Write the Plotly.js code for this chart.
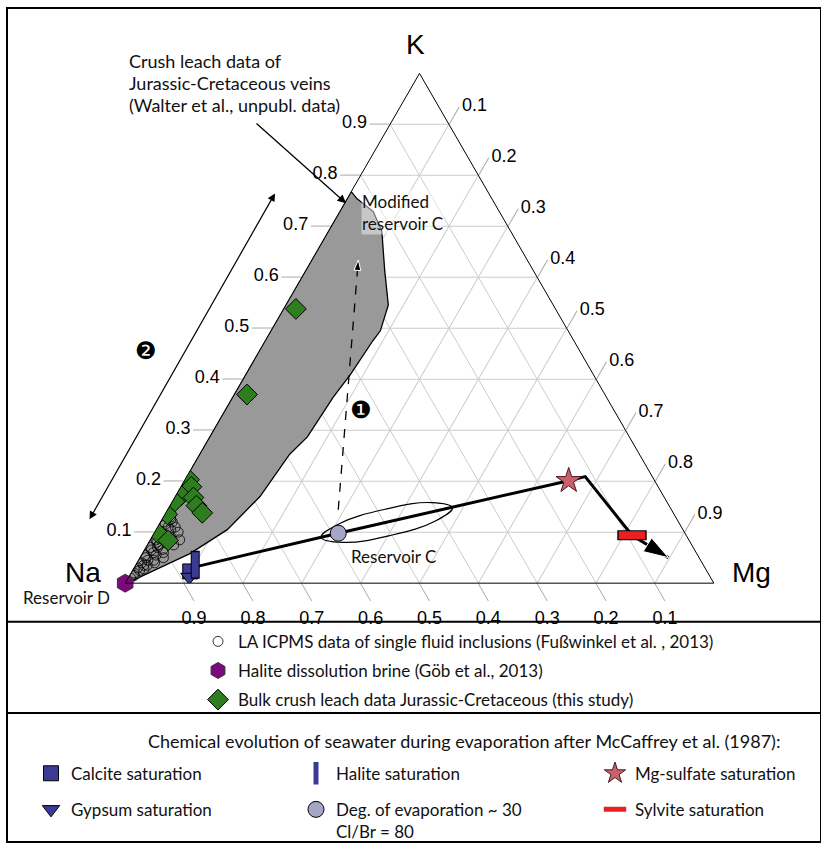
<!DOCTYPE html>
<html><head><meta charset="utf-8">
<script src="https://cdn.plot.ly/plotly-3.0.1.min.js"></script>
<style>html,body{margin:0;padding:0;background:#fff}</style>
</head><body><div id="chart" style="width:821px;height:850px"></div>
<script>
// ---------------- DATA (K = a, Mg = c, Na = remainder) ----------------
const tickVals = [0.1, 0.2, 0.3, 0.4, 0.5, 0.6, 0.7, 0.8, 0.9];
const tickText = ['0.1', '0.2', '0.3', '0.4', '0.5', '0.6', '0.7', '0.8', '0.9'];

// outline of crush-leach field (Walter et al., unpubl.)
const regionK  = [0, 0.768, 0.754, 0.729, 0.690, 0.612, 0.546, 0.495, 0.476, 0.409, 0.365, 0.287, 0.253, 0.170, 0.105, 0.058, 0];
const regionMg = [0, 0.000, 0.017, 0.057, 0.091, 0.135, 0.174, 0.186, 0.183, 0.178, 0.171, 0.166, 0.153, 0.144, 0.121, 0.081, 0.003];

// LA ICPMS single fluid inclusions
const incK  = [0.010, 0.015, 0.020, 0.025, 0.030, 0.035, 0.040, 0.045, 0.050, 0.055, 0.060, 0.065, 0.070, 0.075, 0.080, 0.085, 0.090, 0.095, 0.100, 0.105, 0.110, 0.115, 0.120, 0.125, 0.130, 0.040, 0.050, 0.060, 0.075, 0.085, 0.100, 0.070, 0.055, 0.035, 0.110, 0.120, 0.028, 0.045, 0.066, 0.090];
const incMg = [0.004, 0.008, 0.005, 0.012, 0.006, 0.014, 0.008, 0.016, 0.010, 0.006, 0.018, 0.012, 0.008, 0.020, 0.014, 0.010, 0.022, 0.015, 0.012, 0.025, 0.018, 0.010, 0.020, 0.015, 0.012, 0.030, 0.040, 0.035, 0.045, 0.050, 0.040, 0.020, 0.025, 0.020, 0.030, 0.005, 0.018, 0.026, 0.031, 0.033];

// Halite dissolution brine (Reservoir D)
const brineK  = [0];
const brineMg = [0];

// Bulk crush leach data Jurassic-Cretaceous
const bulkK  = [0.538, 0.370, 0.203, 0.189, 0.172, 0.160, 0.135, 0.168, 0.152, 0.138, 0.098, 0.084];
const bulkMg = [0.021, 0.022, 0.007, 0.018, 0.009, 0.004, 0.004, 0.032, 0.045, 0.062, 0.007, 0.031];

// Seawater evaporation path (McCaffrey et al., 1987)
const calciteK = [0.023], calciteMg = [0.099];
const gypsumK  = [0.012], gypsumMg  = [0.103];
const haliteK  = [0.036], haliteMg  = [0.101];
const evapK    = [0.098], evapMg    = [0.313];
const mgsulfK  = [0.201], mgsulfMg  = [0.653];
const sylviteK = [0.094], sylviteMg = [0.814];
const pathK  = [0.031, 0.098, 0.201, 0.209, 0.094, 0.050];
const pathMg = [0.100, 0.313, 0.653, 0.677, 0.814, 0.898];

// Reservoir C envelope
const resCK  = [0.148, 0.122, 0.094, 0.080, 0.090, 0.117, 0.145, 0.158, 0.148];
const resCMg = [0.482, 0.466, 0.405, 0.330, 0.288, 0.306, 0.369, 0.442, 0.482];

// trend 1 (Reservoir C -> modified Reservoir C)
const trendK  = [0.144, 0.634];
const trendMg = [0.290, 0.079];

// ---------------- helpers for layout placement ----------------
const W = 821, H = 850;
const px = v => v / W;
const py = v => 1 - v / H;

const fam = 'Lato, Open Sans, sans-serif';
const f = s => ({family: fam, size: s, color: '#111'});
const blue = '#3b3b96';

const traces = [
  {type: 'scatterternary', mode: 'lines', a: regionK, c: regionMg, fill: 'toself',
   fillcolor: '#999999', line: {color: 'black', width: 1.3}, showlegend: false, hoverinfo: 'skip'},
  {type: 'scatterternary', mode: 'lines', a: resCK, c: resCMg,
   line: {color: 'black', width: 1.2, shape: 'spline', smoothing: 1.2}, showlegend: false, hoverinfo: 'skip'},
  {type: 'scatterternary', mode: 'lines', a: trendK, c: trendMg,
   line: {color: 'black', width: 1.3, dash: 'dash'}, showlegend: false, hoverinfo: 'skip'},
  {type: 'scatterternary', mode: 'markers', a: trendK, c: trendMg,
   marker: {symbol: ['circle', 'arrow'], size: [1, 11], opacity: [0, 1], color: 'black', angleref: 'previous'},
   showlegend: false, hoverinfo: 'skip'},
  {type: 'scatterternary', mode: 'lines', a: pathK, c: pathMg,
   line: {color: 'black', width: 3}, showlegend: false, hoverinfo: 'skip'},
  {type: 'scatterternary', mode: 'markers', a: pathK.slice(-2), c: pathMg.slice(-2),
   marker: {symbol: ['circle', 'arrow'], size: [1, 26], opacity: [0, 1], color: 'black', angleref: 'previous'},
   showlegend: false, hoverinfo: 'skip', cliponaxis: false},

  // legend 1
  {type: 'scatterternary', mode: 'markers', a: incK, c: incMg,
   name: 'LA ICPMS data of single fluid inclusions (Fußwinkel et al. , 2013)',
   marker: {symbol: 'circle-open', size: 10, color: 'black', line: {width: 0.8}},
   legend: 'legend', legendgroup: 'g1', legendrank: 1},
  {type: 'scatterternary', mode: 'markers', a: bulkK, c: bulkMg,
   name: 'Bulk crush leach data Jurassic-Cretaceous (this study)',
   marker: {symbol: 'diamond', size: 16, color: '#2e7d1e', line: {color: 'black', width: 1}},
   legend: 'legend', legendgroup: 'g3', legendrank: 3},
  {type: 'scatterternary', mode: 'markers', a: brineK, c: brineMg, cliponaxis: false,
   name: 'Halite dissolution brine (Göb et al., 2013)',
   marker: {symbol: 'hexagon', size: 18, color: '#7d0a7d', line: {color: '#333', width: 1}},
   legend: 'legend', legendgroup: 'g2', legendrank: 2},

  // legend 2
  {type: 'scatterternary', mode: 'markers', a: calciteK, c: calciteMg, name: 'Calcite saturation',
   marker: {symbol: 'square', size: 15, color: blue, line: {color: 'black', width: 1}},
   legend: 'legend2', legendgroup: 'h1', legendrank: 1},
  {type: 'scatterternary', mode: 'markers', a: gypsumK, c: gypsumMg, name: 'Gypsum saturation',
   marker: {symbol: 'triangle-down', size: 15, color: blue, line: {color: 'black', width: 1}},
   legend: 'legend2', legendgroup: 'h2', legendrank: 2},

  // legend 3
  {type: 'scatterternary', mode: 'markers', a: haliteK, c: haliteMg, showlegend: false,
   marker: {symbol: 'line-ns', size: 20, color: 'black', line: {width: 9, color: 'black'}}, hoverinfo: 'skip'},
  {type: 'scatterternary', mode: 'markers', a: haliteK, c: haliteMg, name: 'Halite saturation',
   marker: {symbol: 'line-ns', size: 18, color: blue, line: {width: 7, color: blue}},
   legend: 'legend3', legendgroup: 'i1', legendrank: 1},
  {type: 'scatterternary', mode: 'markers', a: evapK, c: evapMg, name: 'Deg. of evaporation ~ 30<br>Cl/Br = 80',
   marker: {symbol: 'circle', size: 16, color: '#a5a5c8', line: {color: 'black', width: 1}},
   legend: 'legend3', legendgroup: 'i2', legendrank: 2},

  // legend 4
  {type: 'scatterternary', mode: 'markers', a: mgsulfK, c: mgsulfMg, name: 'Mg-sulfate saturation',
   marker: {symbol: 'star', size: 19, color: '#c8606e', line: {color: '#4a1a1a', width: 1}},
   legend: 'legend4', legendgroup: 'j1', legendrank: 1},
  {type: 'scatterternary', mode: 'markers', a: sylviteK, c: sylviteMg, showlegend: false,
   marker: {symbol: 'line-ew', size: 21, color: 'black', line: {width: 10, color: 'black'}}, hoverinfo: 'skip'},
  {type: 'scatterternary', mode: 'markers', a: sylviteK, c: sylviteMg, name: 'Sylvite saturation',
   marker: {symbol: 'line-ew', size: 19, color: '#e82020', line: {width: 8, color: '#e82020'}},
   legend: 'legend4', legendgroup: 'j2', legendrank: 2}
];

const axisBase = {
  title: {text: ''}, min: 0, tickmode: 'array', tickvals: tickVals, ticktext: tickText,
  ticks: 'outside', ticklen: 20, tickcolor: '#a8a8a8', tickwidth: 1,
  showgrid: true, gridcolor: '#cccccc', gridwidth: 1,
  showline: true, linecolor: 'black', linewidth: 1,
  tickfont: {family: 'Liberation Sans, Arial, sans-serif', size: 18, color: 'black'}
};

const legBase = {
  font: f(17), bgcolor: 'rgba(0,0,0,0)', borderwidth: 0,
  traceorder: 'grouped', xanchor: 'left', yanchor: 'top', valign: 'top', itemclick: false
};

const ann = (x, y, text, opts) => Object.assign({
  x: px(x), y: py(y), xref: 'paper', yref: 'paper', text: text, showarrow: false,
  xanchor: 'center', yanchor: 'middle', font: f(17)
}, opts || {});

const big = {family: 'Liberation Sans, Arial', size: 28, color: 'black'};

const layout = {
  width: W, height: H, autosize: false,
  margin: {l: 0, r: 0, t: 0, b: 0},
  paper_bgcolor: 'white',
  ternary: {
    sum: 1,
    domain: {x: [px(125), px(714)], y: [py(588), py(74)]},
    bgcolor: 'white',
    aaxis: Object.assign({}, axisBase),
    baxis: Object.assign({}, axisBase),
    caxis: Object.assign({}, axisBase)
  },
  legend: Object.assign({}, legBase, {x: px(198), y: py(629), tracegroupgap: 4}),
  legend2: Object.assign({}, legBase, {x: px(31), y: py(762), tracegroupgap: 11}),
  legend3: Object.assign({}, legBase, {x: px(296), y: py(762), tracegroupgap: 11}),
  legend4: Object.assign({}, legBase, {x: px(595), y: py(762), tracegroupgap: 11}),
  shapes: [
    {type: 'rect', xref: 'paper', yref: 'paper', x0: px(7), x1: px(821), y0: py(849), y1: py(8),
     line: {color: 'black', width: 2}},
    {type: 'line', xref: 'paper', yref: 'paper', x0: px(7), x1: px(821), y0: py(627), y1: py(627),
     line: {color: 'black', width: 2}},
    {type: 'line', xref: 'paper', yref: 'paper', x0: px(7), x1: px(821), y0: py(719), y1: py(719),
     line: {color: 'black', width: 2}}
  ],
  annotations: [
    ann(416, 45, 'K', {font: big}),
    ann(103, 577, 'Na', {xanchor: 'right', font: big}),
    ann(730, 577, 'Mg', {xanchor: 'left', font: big}),
    ann(66, 602, 'Reservoir D', {font: f(17)}),
    ann(393, 561, 'Reservoir C', {font: f(17)}),
    ann(361, 214, 'Modified<br>reservoir C', {xanchor: 'left', align: 'left', bgcolor: 'rgba(255,255,255,0.45)',
      borderpad: 0, font: f(17)}),
    ann(127, 62, 'Crush leach data of', {xanchor: 'left', font: f(18)}),
    ann(127, 84, 'Jurassic-Cretaceous veins', {xanchor: 'left', font: f(18)}),
    ann(127, 106, '(Walter et al., unpubl. data)', {xanchor: 'left', font: f(18)}),
    ann(346, 205, ' ', {showarrow: true, arrowhead: 2, arrowsize: 1.3, arrowwidth: 1.3, arrowcolor: 'black',
      ax: 253 - 346, ay: 122 - 205, standoff: 0}),
    ann(275, 195, ' ', {showarrow: true, arrowhead: 2, arrowside: 'end+start', arrowsize: 1.3, arrowwidth: 1.2,
      arrowcolor: 'black', ax: 86 - 275, ay: 527 - 195, standoff: 0, startstandoff: 0}),
    ann(146, 354, '\u2777', {font: {family: 'DejaVu Sans', size: 24, color: 'black'}}),
    ann(361, 413, '\u2776', {font: {family: 'DejaVu Sans', size: 24, color: 'black'}}),
    ann(464, 747, 'Chemical evolution of seawater during evaporation after McCaffrey et al. (1987):', {font: f(18)})
  ]
};

Plotly.newPlot('chart', traces, layout, {displayModeBar: false, staticPlot: true});
</script>
</body></html>
